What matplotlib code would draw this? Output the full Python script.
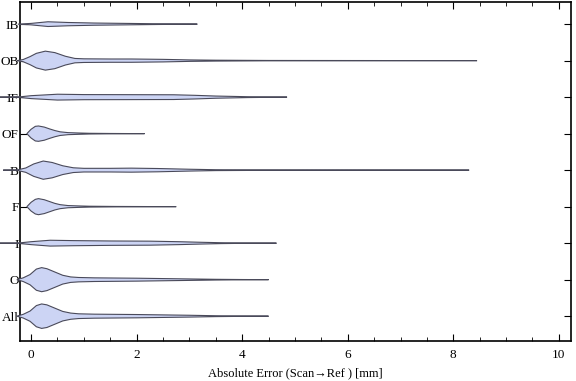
import numpy as np
import matplotlib
matplotlib.use("Agg")
import matplotlib.pyplot as plt
from matplotlib.ticker import MultipleLocator

plt.rcParams['font.family'] = ['Liberation Serif', 'DejaVu Serif']

categories = ["All", "O", "I", "F", "B", "OF", "IF", "OB", "IB"]

# violin profiles: x position (mm) and half-width (density, in row units)
all_x = [-0.27, -0.15, -0.02, 0.1, 0.2, 0.3, 0.45, 0.6, 0.75, 0.9, 1.2, 1.6, 2.0, 2.5, 3.0, 3.5, 4.0, 4.5]
all_w = [0.0, 0.05, 0.14, 0.29, 0.335, 0.31, 0.22, 0.13, 0.085, 0.065, 0.055, 0.05, 0.045, 0.035, 0.025, 0.012, 0.005, 0.0]

o_x = [-0.27, -0.15, -0.02, 0.1, 0.2, 0.3, 0.45, 0.6, 0.75, 0.9, 1.2, 1.6, 2.0, 2.5, 3.0, 3.5, 4.0, 4.5]
o_w = [0.0, 0.05, 0.14, 0.29, 0.33, 0.30, 0.21, 0.12, 0.075, 0.06, 0.05, 0.045, 0.04, 0.03, 0.02, 0.01, 0.004, 0.0]

i_x = [-0.59, -0.2, 0.0, 0.36, 0.8, 1.5, 2.25, 2.8, 3.2, 3.6, 4.0, 4.65]
i_w = [0.0, 0.01, 0.04, 0.08, 0.07, 0.06, 0.055, 0.04, 0.025, 0.012, 0.005, 0.0]

f_x = [-0.08, 0.0, 0.08, 0.14, 0.25, 0.35, 0.45, 0.55, 0.7, 0.9, 1.1, 1.6, 2.75]
f_w = [0.0, 0.12, 0.2, 0.22, 0.19, 0.14, 0.09, 0.055, 0.03, 0.02, 0.012, 0.006, 0.0]

b_x = [-0.53, -0.25, -0.1, 0.05, 0.23, 0.4, 0.6, 0.8, 1.0, 1.5, 1.9, 2.4, 3.0, 3.5, 4.5, 8.3]
b_w = [0.0, 0.01, 0.06, 0.17, 0.25, 0.21, 0.12, 0.065, 0.05, 0.05, 0.055, 0.045, 0.025, 0.012, 0.005, 0.0]

of_x = [-0.08, 0.0, 0.08, 0.14, 0.25, 0.35, 0.45, 0.55, 0.7, 0.9, 1.1, 1.5, 2.15]
of_w = [0.0, 0.12, 0.2, 0.21, 0.18, 0.13, 0.085, 0.05, 0.028, 0.018, 0.01, 0.005, 0.0]

if_x = [-0.59, -0.2, 0.0, 0.5, 1.0, 1.8, 2.7, 3.1, 3.5, 4.1, 4.85]
if_w = [0.0, 0.01, 0.04, 0.08, 0.07, 0.068, 0.065, 0.05, 0.03, 0.012, 0.0]

ob_x = [-0.27, -0.15, -0.02, 0.1, 0.27, 0.45, 0.65, 0.83, 1.0, 1.5, 1.9, 2.5, 3.0, 3.5, 4.5, 8.45]
ob_w = [0.0, 0.03, 0.11, 0.2, 0.26, 0.22, 0.12, 0.06, 0.05, 0.045, 0.045, 0.035, 0.02, 0.012, 0.005, 0.0]

ib_x = [-0.25, 0.0, 0.32, 0.7, 1.2, 1.8, 2.4, 3.15]
ib_w = [0.0, 0.02, 0.065, 0.045, 0.03, 0.02, 0.01, 0.0]

profiles = [(all_x, all_w), (o_x, o_w), (i_x, i_w), (f_x, f_w), (b_x, b_w),
            (of_x, of_w), (if_x, if_w), (ob_x, ob_w), (ib_x, ib_w)]

fig = plt.figure(figsize=(5.76, 3.81), dpi=100)
ax = fig.add_axes([20/576, 1 - 341/381, 551/576, 339.5/381])

for k, (xs, ws) in enumerate(profiles):
    y0 = k + 1
    xs = np.asarray(xs, float)
    ws = np.asarray(ws, float)
    px = np.concatenate([xs, xs[::-1]])
    py = np.concatenate([y0 + ws, (y0 - ws)[::-1]])
    ax.fill(px, py, facecolor='#ccd4f4', edgecolor='#4a4a5a', linewidth=0.8,
            clip_on=False, zorder=3)

ax.set_xlim(-0.21, 10.23)
ax.set_ylim(0.32, 9.62)
ax.set_yticks(range(1, len(categories) + 1))
ax.set_yticklabels(categories)
ax.xaxis.set_major_locator(MultipleLocator(2))
ax.xaxis.set_minor_locator(MultipleLocator(0.5))
ax.tick_params(axis='both', which='both', direction='in', top=True, right=True,
               labelsize=9.5, colors='black')
ax.tick_params(axis='x', which='major', length=5, width=0.8, pad=6)
ax.tick_params(axis='x', which='minor', length=3, width=0.6)
ax.tick_params(axis='y', which='major', length=5, width=0.8, pad=1)
for s in ax.spines.values():
    s.set_linewidth(1.2)
ax.set_xlabel("Absolute Error (Scan\u2192Ref ) [mm]", fontsize=9, labelpad=4)

fig.savefig("out.png", dpi=100)
